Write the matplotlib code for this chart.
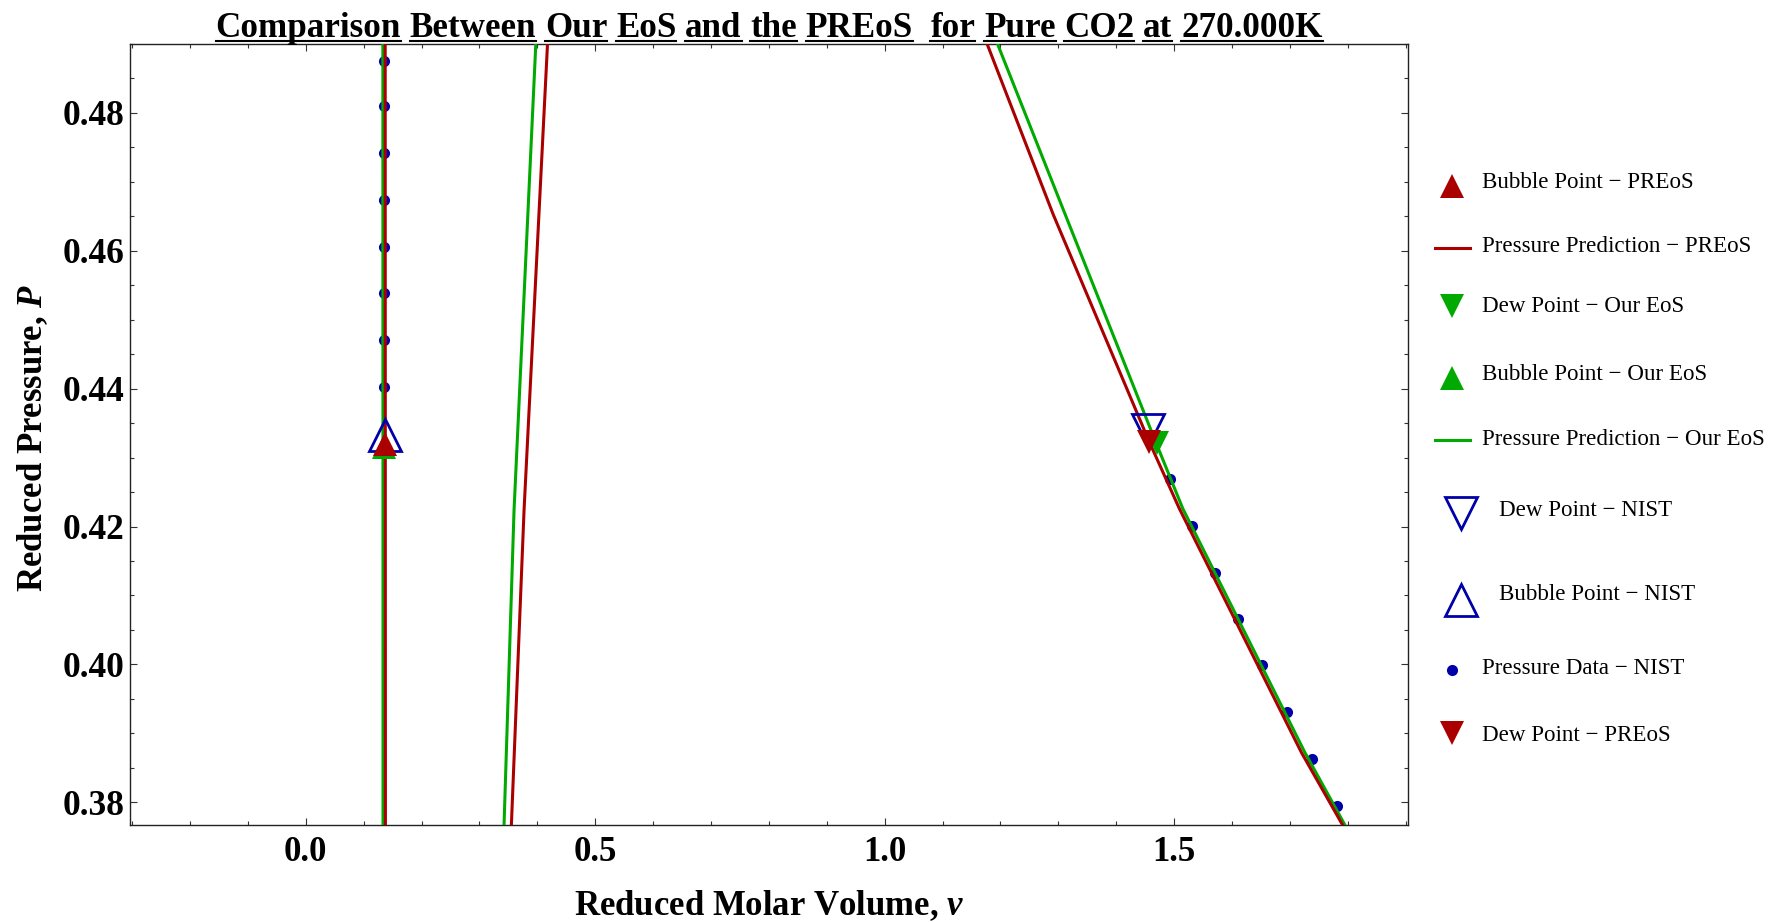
import matplotlib
matplotlib.use("Agg")
import matplotlib.pyplot as plt
from matplotlib.lines import Line2D
from matplotlib.ticker import MultipleLocator, FormatStrFormatter

W, H, DPI = 1778, 922, 100

plt.rcParams["font.family"] = ["Liberation Serif", "DejaVu Serif"]
plt.rcParams["mathtext.fontset"] = "custom"
plt.rcParams["mathtext.rm"] = "Liberation Serif:bold"
plt.rcParams["mathtext.it"] = "Liberation Serif:bold:italic"

RED = "#AA0000"
GREEN = "#00AA00"
BLUE = "#0000AA"

# ---- isotherm predictions (reduced volume v, reduced pressure P) ----
pr_liq_v = [0.1376, 0.1372]
pr_liq_p = [0.3767, 0.4900]
pr_mid_v = [0.3552, 0.3771, 0.4176]
pr_mid_p = [0.3767, 0.4224, 0.4900]
pr_vap_v = [1.177, 1.291, 1.457, 1.509, 1.720, 1.791]
pr_vap_p = [0.4900, 0.4653, 0.4323, 0.4226, 0.3872, 0.3767]

our_liq_v = [0.1335, 0.1332]
our_liq_p = [0.3767, 0.4900]
our_mid_v = [0.3425, 0.3598, 0.3974]
our_mid_p = [0.3767, 0.4224, 0.4900]
our_vap_v = [1.195, 1.307, 1.468, 1.515, 1.726, 1.795]
our_vap_p = [0.4900, 0.4663, 0.4323, 0.4226, 0.3872, 0.3767]

# ---- NIST reference data ----
nist_v = [0.1357] * 8 + [1.493, 1.531, 1.570, 1.611, 1.651, 1.695, 1.738, 1.781]
nist_p = [0.4403, 0.4471, 0.4539, 0.4606, 0.4674, 0.4742, 0.4810, 0.4876,
          0.4269, 0.4201, 0.4133, 0.4066, 0.3999, 0.3931, 0.3863, 0.3795]

# ---- saturation points (v, P) ----
bubble_nist = (0.1362, 0.4333)
dew_nist = (1.4547, 0.4340)
bubble_pr = (0.1363, 0.4320)
dew_pr = (1.457, 0.4323)
bubble_our = (0.1358, 0.4316)
dew_our = (1.470, 0.4321)

TEMP_K = 270.000
x_limits = (-0.3036, 1.904)
y_limits = (0.3767, 0.4900)

fig = plt.figure(figsize=(W / DPI, H / DPI), dpi=DPI)
ax = fig.add_axes([130 / W, (H - 825) / H, (1408 - 130) / W, (825 - 44) / H])

ax.plot(nist_v, nist_p, "o", color=BLUE, ms=8, mew=0, zorder=2)

for v, p in [(our_liq_v, our_liq_p), (our_mid_v, our_mid_p), (our_vap_v, our_vap_p)]:
    ax.plot(v, p, color=GREEN, lw=2.2, zorder=3)
for v, p in [(pr_liq_v, pr_liq_p), (pr_mid_v, pr_mid_p), (pr_vap_v, pr_vap_p)]:
    ax.plot(v, p, color=RED, lw=2.2, zorder=4)

ax.plot(*bubble_our, "^", color=GREEN, ms=17.5, mew=0, zorder=5)
ax.plot(*dew_our, "v", color=GREEN, ms=17.5, mew=0, zorder=5)
ax.plot(*bubble_nist, "^", mfc="none", mec=BLUE, ms=23, mew=2.0, zorder=6)
ax.plot(*dew_nist, "v", mfc="none", mec=BLUE, ms=23, mew=2.0, zorder=6)
ax.plot(*bubble_pr, "^", color=RED, ms=17.5, mew=0, zorder=7)
ax.plot(*dew_pr, "v", color=RED, ms=17.5, mew=0, zorder=7)

ax.set_xlim(*x_limits)
ax.set_ylim(*y_limits)
ax.xaxis.set_major_locator(MultipleLocator(0.5))
ax.xaxis.set_minor_locator(MultipleLocator(0.1))
ax.yaxis.set_major_locator(MultipleLocator(0.02))
ax.yaxis.set_minor_locator(MultipleLocator(0.005))
ax.xaxis.set_major_formatter(FormatStrFormatter("%.1f"))
ax.yaxis.set_major_formatter(FormatStrFormatter("%.2f"))
ax.tick_params(which="both", direction="in", top=True, right=True,
               width=0.8, color="#333333")
ax.tick_params(which="major", length=5.2)
ax.tick_params(which="minor", length=3.0)
ax.tick_params(axis="x", which="major", pad=8, labelsize=25)
ax.tick_params(axis="y", which="major", pad=4.3, labelsize=25.5)
for lab in ax.get_xticklabels() + ax.get_yticklabels():
    lab.set_fontweight("bold")
for s in ax.spines.values():
    s.set_linewidth(1.0)
    s.set_color("#222222")

ax.set_xlabel(r"Reduced Molar Volume, $v$", fontsize=25, fontweight="bold")
ax.xaxis.set_label_coords(0.5, -0.1149)
ax.xaxis.label.set_va("baseline")
ax.set_ylabel(r"Reduced Pressure, $P$", fontsize=25, fontweight="bold")
ax.yaxis.label.set(rotation_mode="default", va="center", ha="center")
ax.yaxis.set_label_coords((33 - 130) / (1408 - 130), (825 - 438) / (825 - 44))

# ---- title: each word underlined separately ----
title = f"Comparison Between Our EoS and the PREoS  for Pure CO2 at {TEMP_K:.3f}K"
fig.canvas.draw()
renderer = fig.canvas.get_renderer()
tkw = dict(fontsize=25.2, fontweight="bold", va="baseline", ha="left")
probe = fig.text(0, 0, "a a", **tkw)
w_aa = probe.get_window_extent(renderer).width
probe.set_text("aa")
space_w = w_aa - probe.get_window_extent(renderer).width
probe.remove()

words = title.split(" ")
widths = []
for w in words:
    if w:
        t = fig.text(0, 0, w, **tkw)
        widths.append(t.get_window_extent(renderer).width)
        t.remove()
    else:
        widths.append(0.0)
total = sum(widths) + space_w * (len(words) - 1)
x_center = (219 + 1319) / 2
x = x_center - total / 2
base_y = H - 36.7
for w, wd in zip(words, widths):
    if w:
        fig.text(x / W, base_y / H, w, **tkw)
        fig.add_artist(Line2D([x / W, (x + wd) / W], [(base_y - 4) / H] * 2,
                              transform=fig.transFigure, color="black", lw=1.5))
    x += wd + space_w

# ---- legend ----
legend_items = [
    ("Bubble Point − PREoS", "marker", dict(marker="^", color=RED, ms=17, mew=0), 1452, 186.5, 1482, 182.3),
    ("Pressure Prediction − PREoS", "line", dict(color=RED, lw=2.2), 1452, 247.6, 1482, 246.8),
    ("Dew Point − Our EoS", "marker", dict(marker="v", color=GREEN, ms=17, mew=0), 1452, 306.0, 1482, 306.5),
    ("Bubble Point − Our EoS", "marker", dict(marker="^", color=GREEN, ms=17, mew=0), 1452, 378.0, 1482, 374.5),
    ("Pressure Prediction − Our EoS", "line", dict(color=GREEN, lw=2.2), 1452, 440.0, 1482, 439.3),
    ("Dew Point − NIST", "marker", dict(marker="v", mfc="none", mec=BLUE, ms=23, mew=2.0), 1461, 513.0, 1499, 510.5),
    ("Bubble Point − NIST", "marker", dict(marker="^", mfc="none", mec=BLUE, ms=23, mew=2.0), 1461, 600.0, 1499, 594.0),
    ("Pressure Data − NIST", "marker", dict(marker="o", color=BLUE, ms=8, mew=0), 1452, 670.0, 1482, 668.0),
    ("Dew Point − PREoS", "marker", dict(marker="v", color=RED, ms=17, mew=0), 1452, 733.0, 1482, 735.0),
]
for label, kind, style, mx, my, tx, ty in legend_items:
    if kind == "line":
        fig.add_artist(Line2D([1435 / W, 1470 / W], [(H - my) / H] * 2,
                              transform=fig.transFigure, **style))
    else:
        fig.add_artist(Line2D([mx / W], [(H - my) / H], transform=fig.transFigure,
                              linestyle="none", **style))
    fig.text(tx / W, (H - ty) / H, label, fontsize=16.6, va="center", ha="left")

fig.savefig("out.png", dpi=DPI)
